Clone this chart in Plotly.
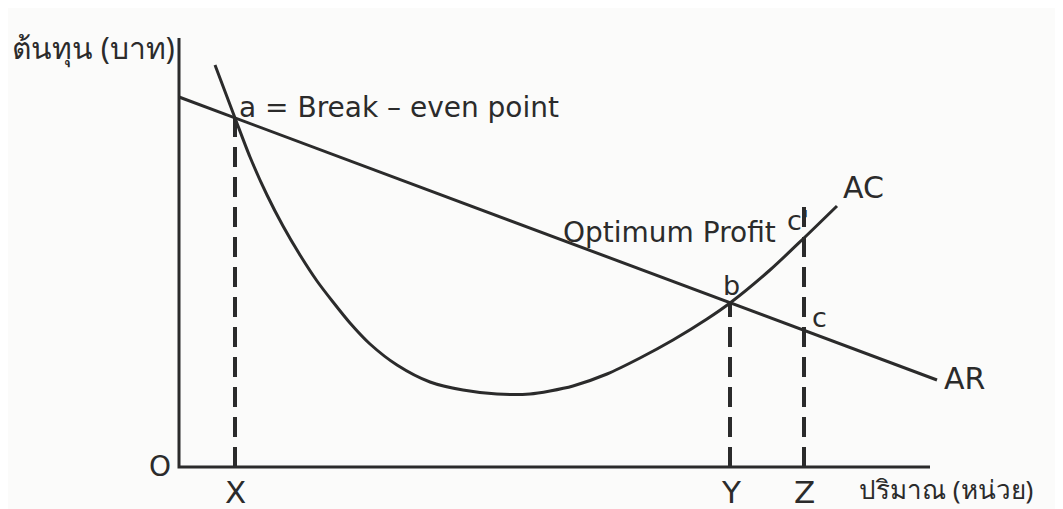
import plotly.graph_objects as go

# AC curve (average cost): quantity vs cost (units from origin O)
ac_q = [36, 56, 71, 88, 104, 121, 138, 154, 171, 191, 218, 251, 284, 318, 351, 371,
        394, 428, 461, 494, 528, 551, 591, 625, 658]
ac_c = [402, 349, 310, 272, 241, 212, 186, 165, 144, 123, 102, 85, 77, 73, 73, 76,
        81, 93, 109, 127, 148, 164, 197, 229, 261]

# AR line (average revenue)
ar_q = [0, 758]
ar_c = [370, 87]

# Dashed drop lines at X, Y, Z
drop_q = [56, 551, 625]
drop_top = [349, 164, 265]

# Axis extents
x_axis_end = 751
y_axis_end = 429

LINE = "#2b2b2b"
FONT = "DejaVu Sans"
THAI = "Noto Sans, DejaVu Sans, sans-serif"

fig = go.Figure()

# axes
fig.add_trace(go.Scatter(x=[0, 0, x_axis_end], y=[y_axis_end, 0, 0], mode="lines",
                         line=dict(color=LINE, width=3), hoverinfo="skip", showlegend=False))
# drop lines
for q, top in zip(drop_q, drop_top):
    fig.add_trace(go.Scatter(x=[q, q], y=[0, top], mode="lines",
                             line=dict(color=LINE, width=4, dash="20px,10px"),
                             hoverinfo="skip", showlegend=False))
# AR
fig.add_trace(go.Scatter(x=ar_q, y=ar_c, mode="lines", line=dict(color=LINE, width=3),
                         showlegend=False))
# AC
fig.add_trace(go.Scatter(x=ac_q, y=ac_c, mode="lines",
                         line=dict(color=LINE, width=3, shape="spline", smoothing=0.8),
                         showlegend=False))

labels = [
    ("ต้นทุน (บาท)", -169, 420, "left", THAI, 30),
    ("O", -19, 1, "center", FONT, 28),
    ("X", 56, -25, "center", FONT, 31),
    ("Y", 552, -25, "center", FONT, 31),
    ("Z", 625, -25, "center", FONT, 31),
    ("ปริมาณ (หน่วย)", 678, -22, "left", THAI, 26),
    ("a = Break – even point", 58, 360, "left", FONT, 28),
    ("Optimum Profit", 382, 235, "left", FONT, 28),
    ("b", 552, 182, "center", FONT, 27),
    ("c'", 619, 247, "center", FONT, 27),
    ("c", 640, 150, "center", FONT, 27),
    ("AC", 662, 280, "left", FONT, 30),
    ("AR", 763, 89, "left", FONT, 30),
]
for text, x, y, anchor, fam, size in labels:
    fig.add_annotation(x=x, y=y, text=text, showarrow=False, xanchor=anchor, yanchor="middle",
                       font=dict(family=fam, size=size, color=LINE))

fig.update_layout(
    width=1055, height=501,
    margin=dict(l=0, r=0, t=0, b=0),
    paper_bgcolor="#fbfbfa", plot_bgcolor="#fbfbfa",
    xaxis=dict(range=[-171, 884], visible=False, fixedrange=True),
    yaxis=dict(range=[-42, 459], visible=False, fixedrange=True),
    showlegend=False,
)
fig.write_html("out.html")
